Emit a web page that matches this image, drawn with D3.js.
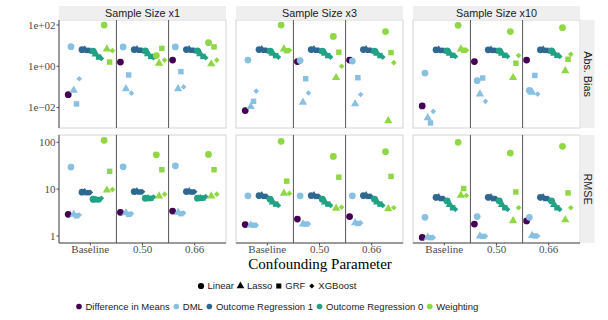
<!DOCTYPE html>
<html>
<head>
<meta charset="utf-8">
<script src="https://cdn.jsdelivr.net/npm/d3@7"></script>
<style>
  body { margin: 0; background: #fff; }
</style>
</head>
<body>
<div id="main"></div>
<script>
// facets / categories
const categories = ["Baseline", "0.50", "0.66"];
const sampleSizes = ["Sample Size x1", "Sample Size x3", "Sample Size x10"];
const metrics = ["Abs. Bias", "RMSE"];
const methods = ["Difference in Means", "DML", "Outcome Regression 1", "Outcome Regression 0", "Weighting"];
const models = ["Linear", "Lasso", "GRF", "XGBoost"];
const methodColors = ["#440154", "#88C0E2", "#2E6890", "#21A285", "#8FD744"];

const biasTicks = [1e-2, 1, 1e2];
const biasTickLabels = ["1e\u221202", "1e+00", "1e+02"];
const rmseTicks = [1, 10, 100];
const rmseTickLabels = ["1", "10", "100"];

// Difference in Means: [sample size][category]  (single model)
const dimBias = [[0.042, 1.6, 2.0], [0.0072, 1.7, 2.0], [0.012, 1.7, 2.0]];
const dimRmse = [[2.9, 3.2, 3.4], [1.75, 2.3, 2.6], [0.93, 1.8, 2.1]];

// other methods: [sample size][category][model]
const dmlBias = [
  [[8.9, 0.068, 0.015, 0.25], [8.7, 0.08, 0.38, 0.05], [8.7, 0.08, 0.55, 0.1]],
  [[2.0, 0.011, 0.02, 0.063], [1.9, 0.018, 0.25, 0.051], [1.8, 0.015, 0.28, 0.043]],
  [[0.47, 0.0032, 0.0018, 0.0065], [0.2, 0.045, 0.27, 0.02], [0.068, 0.055, 0.36, 0.045]]
];
const or1Bias = [
  [[6.4, 6.2, 5.9, 5.4], [6.5, 6.3, 6.0, 5.5], [6.5, 6.3, 6.0, 5.5]],
  [[6.5, 6.3, 6.0, 5.6], [6.5, 6.3, 6.0, 5.6], [6.5, 6.3, 6.0, 5.6]],
  [[6.3, 6.1, 5.9, 5.5], [6.3, 6.1, 5.9, 5.5], [6.3, 6.1, 5.9, 5.5]]
];
const or0Bias = [
  [[5.5, 3.9, 2.8, 2.4], [5.6, 4.0, 3.0, 2.6], [5.6, 4.0, 3.0, 2.6]],
  [[5.5, 4.2, 3.3, 2.8], [5.5, 4.2, 3.3, 2.8], [5.5, 4.2, 3.3, 2.8]],
  [[5.6, 4.2, 3.4, 3.0], [5.6, 4.2, 3.4, 3.0], [5.6, 4.2, 3.4, 3.0]]
];
const wtBias = [
  [[100, 6.9, 1.6, 5.7], [3.3, 1.4, 7.4, 2.0], [14, 1.3, 8.7, 2.0]],
  [[100, 6.9, 5.7, 6.0], [28, 0.28, 4.8, 1.0], [48, 0.0023, 4.6, 1.5]],
  [[97, 6.9, 6.0, 6.0], [48, 0.28, 1.4, 3.3], [74, 0.6, 2.2, 3.8]]
];

const dmlRmse = [
  [[29.6, 2.9, 2.7, 2.8], [30, 3.1, 2.9, 3.0], [31.5, 3.2, 3.0, 3.1]],
  [[7.2, 1.7, 1.7, 1.7], [7.2, 1.8, 1.8, 1.8], [7.2, 1.9, 1.85, 1.9]],
  [[2.5, 0.94, 0.92, 0.93], [2.6, 1.0, 0.98, 0.99], [2.5, 1.02, 1.0, 1.0]]
];
const or1Rmse = [
  [[8.6, 8.5, 8.4, 8.5], [8.9, 8.8, 8.7, 8.8], [8.9, 8.8, 8.7, 8.8]],
  [[7.3, 7.2, 7.0, 6.8], [7.3, 7.2, 7.0, 6.8], [7.3, 7.2, 7.0, 6.8]],
  [[6.7, 6.5, 6.3, 6.1], [6.7, 6.5, 6.3, 6.1], [6.7, 6.5, 6.3, 6.1]]
];
const or0Rmse = [
  [[6.1, 5.8, 6.0, 6.4], [6.4, 6.2, 6.4, 6.8], [6.4, 6.3, 6.5, 6.9]],
  [[6.1, 5.3, 4.8, 4.5], [6.1, 5.3, 4.8, 4.5], [6.1, 5.3, 4.8, 4.5]],
  [[5.6, 4.7, 4.0, 3.7], [5.6, 4.7, 4.0, 3.7], [5.6, 4.7, 4.0, 3.7]]
];
const wtRmse = [
  [[110, 9.5, 24, 9.8], [54, 7.1, 26, 7.8], [55, 7.1, 26, 7.8]],
  [[105, 8.1, 14.8, 8.1], [50, 3.9, 18, 4.1], [63, 3.8, 18.7, 4.0]],
  [[100, 7.4, 10.3, 7.3], [59, 2.1, 8.7, 4.0], [82, 2.2, 8.3, 4.0]]
];

// layout
const ctx = {
  width: 608, height: 320,
  panelLeft: [59, 236, 413], panelW: 167,
  panelTop: [20, 135], panelH: 108,
  strip: 14,
  sans: "'Liberation Sans', Arial, sans-serif",
  serif: "'Liberation Serif', 'Times New Roman', serif"
};

const svg = d3.select("#main").append("svg")
  .attr("width", ctx.width).attr("height", ctx.height);

// y scales per metric row
const yScales = [
  d3.scaleLog().domain([Math.pow(10, -2.99), Math.pow(10, 2.243)]).range([ctx.panelTop[0] + ctx.panelH, ctx.panelTop[0]]),
  d3.scaleLog().domain([Math.pow(10, -0.15), Math.pow(10, 2.156)]).range([ctx.panelTop[1] + ctx.panelH, ctx.panelTop[1]])
];
const yTicks = [[biasTicks, biasTickLabels], [rmseTicks, rmseTickLabels]];

// dodge groups: DiM only has one model
const groups = [[0, 0]];
for (let k = 1; k < methods.length; k++) models.forEach((m, j) => groups.push([k, j]));
const groupIds = groups.map(g => g.join("-"));

const symbolFor = [d3.symbolCircle, d3.symbolTriangle, d3.symbolSquare, d3.symbolSquare];
const sizeFor = [36, 30, 30, 16];
function shapePath(j, scale) {
  return d3.symbol().type(symbolFor[j]).size(sizeFor[j] * (scale || 1))();
}
function shapeRot(j) { return j === 3 ? " rotate(45)" : ""; }

const biasData = [dimBias, dmlBias, or1Bias, or0Bias, wtBias];
const rmseData = [dimRmse, dmlRmse, or1Rmse, or0Rmse, wtRmse];

function valueOf(metric, s, c, k, j) {
  const src = metric === 0 ? biasData[k] : rmseData[k];
  return k === 0 ? src[s][c] : src[s][c][j];
}

metrics.forEach((metricName, r) => {
  const y = yScales[r];
  const top = ctx.panelTop[r];
  sampleSizes.forEach((ss, s) => {
    const left = ctx.panelLeft[s];
    const x = d3.scalePoint().domain(categories).range([left, left + ctx.panelW]).padding(0.6);
    const step = x.step();
    const dodge = d3.scaleBand().domain(groupIds).range([-0.45 * step, 0.45 * step]);

    const g = svg.append("g");
    g.append("rect").attr("x", left).attr("y", top)
      .attr("width", ctx.panelW).attr("height", ctx.panelH)
      .attr("fill", "#fff").attr("stroke", "#d4d4d4").attr("stroke-width", 1);

    // category dividers
    for (let c = 0; c < categories.length - 1; c++) {
      const xv = (x(categories[c]) + x(categories[c + 1])) / 2;
      g.append("line").attr("x1", xv).attr("x2", xv)
        .attr("y1", top).attr("y2", top + ctx.panelH)
        .attr("stroke", "#555").attr("stroke-width", 1);
    }

    // points
    const pts = [];
    categories.forEach((cat, c) => {
      groups.forEach(([k, j], gi) => {
        pts.push({ cat: cat, k: k, j: j, gid: groupIds[gi], v: valueOf(r, s, c, k, j) });
      });
    });
    g.selectAll("path.pt").data(pts).enter().append("path")
      .attr("class", "pt")
      .attr("d", d => shapePath(d.j))
      .attr("transform", d => `translate(${x(d.cat) + dodge(d.gid) + dodge.bandwidth() / 2},${y(d.v)})${shapeRot(d.j)}`)
      .attr("fill", d => methodColors[d.k]);

    // left axis line on first column
    if (s === 0) {
      g.append("line").attr("x1", left).attr("x2", left)
        .attr("y1", top).attr("y2", top + ctx.panelH)
        .attr("stroke", "#4d4d4d").attr("stroke-width", 1);
      const [tv, tl] = yTicks[r];
      tv.forEach((t, i) => {
        g.append("line").attr("x1", left - 2.5).attr("x2", left)
          .attr("y1", y(t)).attr("y2", y(t)).attr("stroke", "#4d4d4d");
        g.append("text").attr("x", left - 3.5).attr("y", y(t))
          .attr("dy", "0.35em").attr("text-anchor", "end")
          .attr("font-family", ctx.serif).attr("font-size", 11)
          .attr("fill", "#4d4d4d").text(tl[i]);
      });
    }

    // bottom axis on last row
    if (r === metrics.length - 1) {
      g.append("line").attr("x1", left).attr("x2", left + ctx.panelW)
        .attr("y1", top + ctx.panelH).attr("y2", top + ctx.panelH)
        .attr("stroke", "#4d4d4d").attr("stroke-width", 1);
      categories.forEach(cat => {
        g.append("line").attr("x1", x(cat)).attr("x2", x(cat))
          .attr("y1", top + ctx.panelH).attr("y2", top + ctx.panelH + 2.5).attr("stroke", "#4d4d4d");
        g.append("text").attr("x", x(cat)).attr("y", top + ctx.panelH + 10)
          .attr("text-anchor", "middle")
          .attr("font-family", ctx.serif).attr("font-size", 11)
          .attr("fill", "#4d4d4d").text(cat);
      });
    }

    // top strips
    if (r === 0) {
      g.append("rect").attr("x", left).attr("y", top - ctx.strip)
        .attr("width", ctx.panelW).attr("height", ctx.strip - 0.5)
        .attr("fill", "#efefef");
      g.append("text").attr("x", left + ctx.panelW / 2).attr("y", top - ctx.strip / 2)
        .attr("dy", "0.36em").attr("text-anchor", "middle")
        .attr("font-family", ctx.sans).attr("font-size", 10.8)
        .attr("fill", "#1a1a1a").text(ss);
    }
    // right strips
    if (s === sampleSizes.length - 1) {
      const rx = left + ctx.panelW + 0.5;
      g.append("rect").attr("x", rx).attr("y", top)
        .attr("width", ctx.strip).attr("height", ctx.panelH)
        .attr("fill", "#efefef");
      g.append("text")
        .attr("transform", `translate(${rx + ctx.strip / 2},${top + ctx.panelH / 2}) rotate(90)`)
        .attr("dy", "0.36em").attr("text-anchor", "middle")
        .attr("font-family", ctx.sans).attr("font-size", 10.8)
        .attr("fill", "#1a1a1a").text(metricName);
    }
  });
});

// axis title
svg.append("text").attr("x", 320).attr("y", 269)
  .attr("text-anchor", "middle")
  .attr("font-family", ctx.serif).attr("font-size", 15)
  .attr("fill", "#000").text("Confounding Parameter");

// legends
function legendRow(items, startX, cy, scale) {
  let cx = startX;
  items.forEach(it => {
    svg.append("path").attr("d", shapePath(it.j, scale))
      .attr("transform", `translate(${cx},${cy})${shapeRot(it.j)}`)
      .attr("fill", it.color);
    const t = svg.append("text").attr("x", cx + 6.5).attr("y", cy)
      .attr("dy", "0.35em")
      .attr("font-family", ctx.sans).attr("font-size", 9.5)
      .attr("fill", "#1a1a1a").text(it.label);
    cx = cx + 6.5 + t.node().getComputedTextLength() + 6.5;
  });
}
legendRow(models.map((m, j) => ({ label: m, j: j, color: "#000" })), 201, 286, 0.85);
legendRow(methods.map((m, k) => ({ label: m, j: 0, color: methodColors[k] })), 79, 306.5, 0.7);
</script>
</body>
</html>
